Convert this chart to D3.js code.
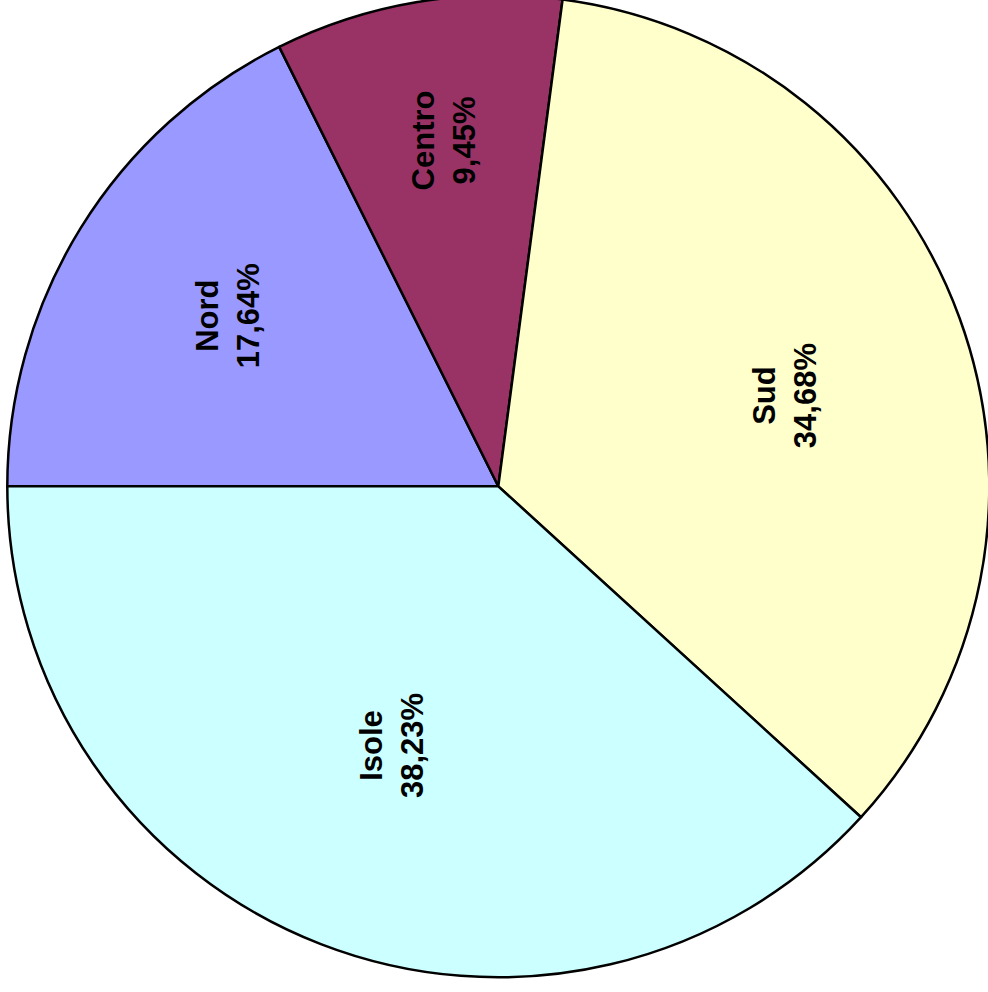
<!DOCTYPE html>
<html>
<head>
<meta charset="utf-8">
<script src="https://cdn.jsdelivr.net/npm/d3@7"></script>
<style>
html,body{margin:0;padding:0;background:#fff;}
svg{display:block;}
</style>
</head>
<body>
<svg id="chart" width="988" height="992"></svg>
<script>
// Data
const categories = ["Nord", "Centro", "Sud", "Isole"];
const values = [17.64, 9.45, 34.68, 38.23];
const valueLabels = ["17,64%", "9,45%", "34,68%", "38,23%"];
const colors = ["#9999FF", "#993366", "#FFFFCC", "#CCFFFF"];

// Layout
const cx = 498.3, cy = 486.3, R = 491;
// label placement tweaks (radius fraction, angle offset in degrees)
const labelLayout = {
  "Nord":   {rf: 0.652, da: 0.45},
  "Centro": {rf: 0.713, da: 0.55},
  "Sud":    {rf: 0.611, da: 2.45},
  "Isole":  {rf: 0.571, da: 1.2}
};

const svg = d3.select("#chart");
const g = svg.append("g").attr("transform", `translate(${cx},${cy})`);

const data = categories.map((c, i) => ({name: c, value: values[i], label: valueLabels[i], color: colors[i]}));

const pie = d3.pie()
  .sort(null)
  .value(d => d.value)
  .startAngle(1.5 * Math.PI)
  .endAngle(3.5 * Math.PI);

const arc = d3.arc().innerRadius(0).outerRadius(R);
const arcs = pie(data);

g.selectAll("path.slice")
  .data(arcs)
  .join("path")
  .attr("class", "slice")
  .attr("d", arc)
  .attr("fill", d => d.data.color)
  .attr("stroke", "#000")
  .attr("stroke-width", 2.5)
  .attr("stroke-linejoin", "round");

const fontSize = 31, lineGap = 41, capH = 22;

const labels = g.selectAll("g.lbl")
  .data(arcs)
  .join("g")
  .attr("class", "lbl")
  .attr("transform", d => {
    const L = labelLayout[d.data.name];
    const a = (d.startAngle + d.endAngle) / 2 + L.da * Math.PI / 180;
    const r = L.rf * R;
    const x = r * Math.sin(a), y = -r * Math.cos(a);
    return `translate(${x},${y}) rotate(-90)`;
  });

labels.append("text")
  .attr("text-anchor", "middle")
  .attr("y", -lineGap / 2 + capH / 2)
  .attr("font-family", "Arial, 'Liberation Sans', sans-serif")
  .attr("font-weight", "bold")
  .attr("font-size", fontSize)
  .attr("fill", "#000")
  .text(d => d.data.name);

labels.append("text")
  .attr("text-anchor", "middle")
  .attr("y", lineGap / 2 + capH / 2)
  .attr("font-family", "Arial, 'Liberation Sans', sans-serif")
  .attr("font-weight", "bold")
  .attr("font-size", fontSize)
  .attr("fill", "#000")
  .text(d => d.data.label);
</script>
</body>
</html>
